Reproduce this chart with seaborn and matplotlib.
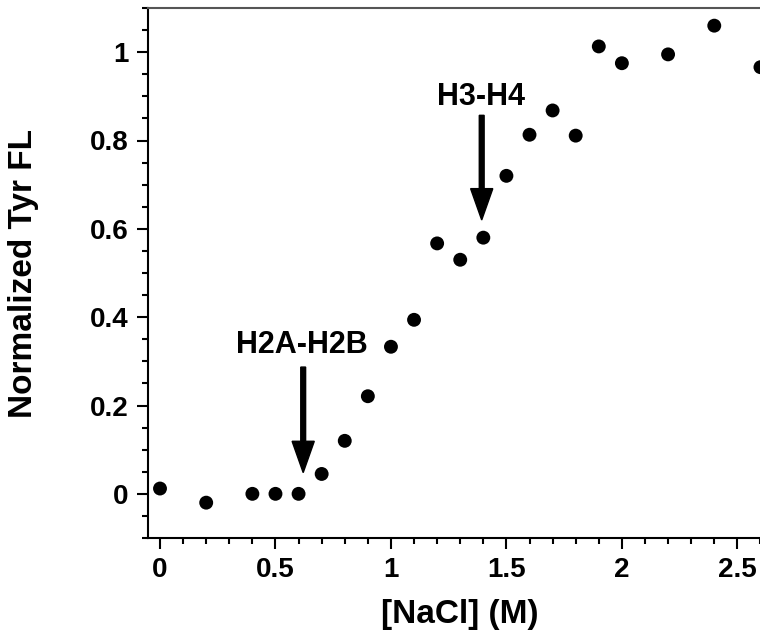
import numpy as np
import pandas as pd
import seaborn as sns
import matplotlib.pyplot as plt
from matplotlib.ticker import MultipleLocator

# NaCl titration, normalized Tyr fluorescence
nacl = [0.0, 0.2, 0.4, 0.5, 0.6, 0.7, 0.8, 0.9, 1.0, 1.1, 1.2, 1.3, 1.4,
        1.5, 1.6, 1.7, 1.8, 1.9, 2.0, 2.2, 2.4, 2.6]
tyr_fl = [0.012, -0.02, 0.0, 0.0, 0.0, 0.045, 0.12, 0.221, 0.333, 0.394,
          0.567, 0.53, 0.58, 0.72, 0.813, 0.868, 0.811, 1.013, 0.975, 0.995,
          1.06, 0.966]

x_ticks = [0, 0.5, 1, 1.5, 2, 2.5]
x_ticklabels = ["0", "0.5", "1", "1.5", "2", "2.5"]
y_ticks = [0, 0.2, 0.4, 0.6, 0.8, 1]
y_ticklabels = ["0", "0.2", "0.4", "0.6", "0.8", "1"]

# arrow annotations: label, x, text y, arrow start y, arrow tip y
marks = ["H2A-H2B", "H3-H4"]
mark_x = [0.62, 1.393]
mark_text_y = [0.338, 0.899]
mark_top = [0.287, 0.857]
mark_tip = [0.048, 0.62]

df = pd.DataFrame({"nacl": nacl, "fl": tyr_fl})

sns.set_style("ticks")
plt.rcParams["font.family"] = ["Liberation Sans", "DejaVu Sans"]
plt.rcParams["font.weight"] = "bold"
plt.rcParams["text.color"] = "black"
plt.rcParams["axes.labelcolor"] = "black"
plt.rcParams["xtick.color"] = "black"
plt.rcParams["ytick.color"] = "black"

fig = plt.figure(figsize=(7.6, 6.38), dpi=100)
ax = fig.add_axes([148 / 760, 100 / 638, 624 / 760, 530 / 638])

sns.scatterplot(data=df, x="nacl", y="fl", ax=ax, color="black",
                s=100, edgecolor="none", zorder=3)

ax.set_xlim(-0.052, 2.65)
ax.set_ylim(-0.1, 1.1)

ax.set_xticks(x_ticks)
ax.set_xticklabels(x_ticklabels, fontsize=20, fontweight="bold")
ax.set_yticks(y_ticks)
ax.set_yticklabels(y_ticklabels, fontsize=20, fontweight="bold")
ax.xaxis.set_minor_locator(MultipleLocator(0.1))
ax.yaxis.set_minor_locator(MultipleLocator(0.05))
ax.tick_params(which="major", length=8, width=1.5, colors="black", pad=6)
ax.tick_params(which="minor", length=4.3, width=1.5, colors="black")

ax.set_xlabel("[NaCl] (M)", fontsize=24, fontweight="bold", color="black")
ax.set_ylabel("Normalized Tyr FL", fontsize=24, fontweight="bold", color="black")
ax.xaxis.set_label_coords(0.5, -0.115)
ax.yaxis.set_label_coords(-0.175, 0.5)

for side in ["left", "bottom"]:
    ax.spines[side].set_linewidth(1.5)
    ax.spines[side].set_color("black")
ax.spines["top"].set_linewidth(1.5)
ax.spines["top"].set_color("#555555")
ax.spines["right"].set_visible(False)

for label, x, ty, y0, y1 in zip(marks, mark_x, mark_text_y, mark_top, mark_tip):
    ax.text(x - 0.004, ty, label, fontsize=22, fontweight="bold",
            ha="center", va="center", color="black")
    ax.arrow(x, y0, 0, y1 - y0, width=0.021, head_width=0.096,
             head_length=0.071, length_includes_head=True,
             color="black", zorder=4)

fig.savefig("out.png", dpi=100)
